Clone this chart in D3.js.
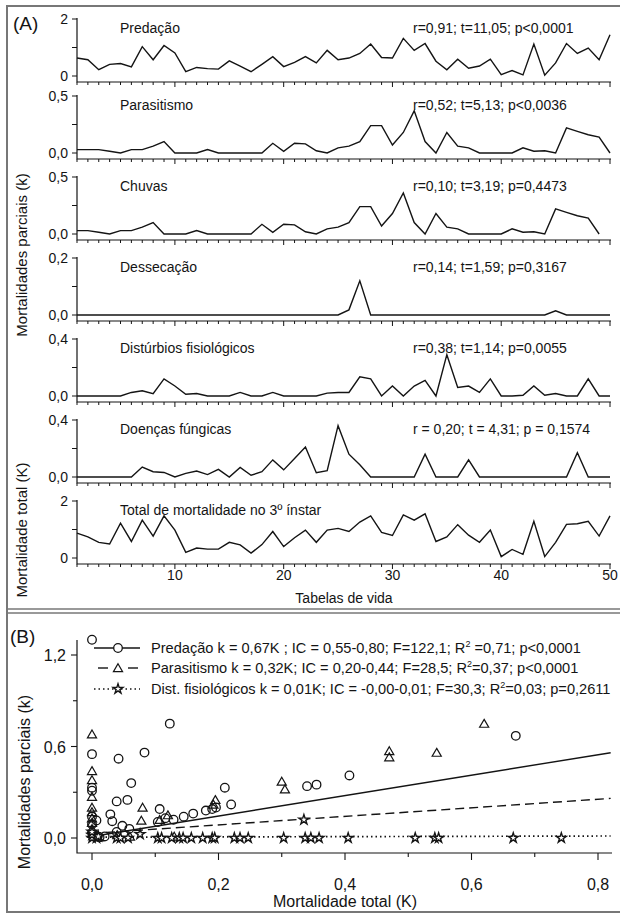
<!DOCTYPE html>
<html>
<head>
<meta charset="utf-8">
<script src="https://cdn.jsdelivr.net/npm/d3@7/dist/d3.min.js"></script>
<style>
  body { margin: 0; background: #fff; }
  svg { display: block; font-family: "Liberation Sans", Arial, sans-serif; }
</style>
</head>
<body>
<svg id="chart" width="620" height="913"></svg>
<script>
// ---- panel A: mortalidades parciais por tabela de vida ----
var tabelas = d3.range(1, 51);

var predacao = [0.63,0.57,0.22,0.41,0.44,0.32,1.03,0.57,1.07,0.81,0.15,0.30,0.26,0.24,0.53,0.35,0.15,0.41,0.68,0.33,
                0.48,0.68,0.46,0.90,0.57,0.63,0.79,1.12,0.65,0.63,1.32,0.90,1.14,0.52,0.22,0.59,0.27,0.35,0.59,0.05,
                0.19,0.04,1.12,0.03,0.46,1.14,0.79,0.98,0.57,1.45];
var parasitismo = [0.03,0.03,0.03,0.015,0,0.03,0.03,0.06,0.10,0,0,0,0.03,0,0,0,0,0,0.085,0.015,
                   0.085,0.08,0.02,0,0.045,0.06,0.10,0.24,0.24,0.07,0.18,0.37,0.10,0,0.18,0.06,0.045,0,0,0,
                   0,0.045,0.015,0.02,0,0.22,0.19,0.16,0.14,0];
var chuvas = [0.03,0.03,0.015,0,0.03,0.03,0.06,0.10,0,0,0,0.03,0,0,0,0,0,0.085,0.015,0.085,
              0.08,0.02,0,0.045,0.06,0.10,0.24,0.24,0.07,0.18,0.36,0.10,0,0.18,0.06,0.045,0,0,0,0,
              0.045,0.015,0.02,0,0.22,0.19,0.16,0.14,0];
var dessecacao = [0,0,0,0,0,0,0,0,0,0,0,0,0,0,0,0,0,0,0,0,
                  0,0,0,0,0,0.018,0.12,0,0,0,0,0,0,0,0,0,0,0,0,0,
                  0,0,0,0,0.015,0,0,0,0,0];
var disturbios = [0,0,0,0,0,0.025,0.037,0.017,0.12,0.07,0.012,0.017,0,0,0,0.025,0,0,0.025,0,
                  0,0,0,0.02,0.025,0.025,0.135,0.12,0,0.07,0,0.07,0.11,0,0.29,0.06,0.07,0.025,0.12,0,
                  0,0.005,0.07,0.005,0.017,0,0,0.12,0,0];
var doencas = [0,0,0,0,0,0,0.07,0.037,0.032,0,0.025,0.042,0.017,0.054,0,0.067,0.012,0.037,0.12,0.05,
               0.13,0.21,0.03,0.044,0.36,0.16,0.086,0,0,0,0,0,0.16,0,0,0,0.12,0,0,0,
               0,0,0,0,0,0,0.17,0,0,0];
var total = [0.87,0.74,0.55,0.49,1.22,0.58,1.33,0.77,1.48,0.98,0.20,0.35,0.31,0.31,0.55,0.46,0.17,0.47,0.93,0.40,
             0.71,0.98,0.55,0.98,1.04,0.93,1.26,1.48,0.90,0.79,1.51,1.33,1.55,0.58,0.74,1.17,0.80,0.55,0.98,0.05,
             0.30,0.13,1.29,0.05,0.55,1.18,1.20,1.29,0.77,1.48];

var titulos = ["Predação", "Parasitismo", "Chuvas", "Dessecação", "Distúrbios fisiológicos",
               "Doenças fúngicas", "Total de mortalidade no 3º ínstar"];
var estatisticas = ["r=0,91; t=11,05; p<0,0001", "r=0,52; t=5,13; p<0,0036", "r=0,10; t=3,19; p=0,4473",
                    "r=0,14; t=1,59; p=0,3167", "r=0,38; t=1,14; p=0,0055", "r = 0,20; t = 4,31; p = 0,1574", ""];
var yMaximos = [2, 0.5, 0.5, 0.2, 0.4, 0.4, 2];
var xRotulos = [10, 20, 30, 40, 50];

// ---- panel B: mortalidades parciais x mortalidade total ----
var predX = [0,0.123,0.67,0,0.042,0.083,0.062,0,0,0.039,0.056,0.029,0.032,0.048,0.059,0.039,0.107,0.104,0.116,0.129,
             0.145,0.16,0.18,0.19,0.196,0.21,0.22,0.34,0.355,0.407,0.007,0,0,0.005,0.02,0.012];
var predY = [1.3,0.75,0.67,0.55,0.52,0.56,0.36,0.33,0.31,0.24,0.25,0.155,0.11,0.08,0.06,0.04,0.19,0.105,0.13,0.12,
             0.14,0.16,0.18,0.19,0.2,0.33,0.22,0.34,0.35,0.41,0.115,0.14,0.09,0.02,0.01,0.005];
var parX = [0,0,0,0,0,0,0,0,0,0,0.08,0.078,0.107,0.12,0.195,0.192,0.30,0.305,0.47,0.47,0.545,0.62,0.04,0.06,0.13,0.01];
var parY = [0.68,0.44,0.38,0.27,0.2,0.17,0.13,0.1,0.06,0.03,0.2,0.115,0.12,0.15,0.25,0.22,0.37,0.32,0.57,0.53,0.56,0.75,0.02,0.01,0.01,0.005];
var distX = [0,0.007,0.039,0.045,0.057,0.076,0.104,0.11,0.126,0.138,0.144,0.157,0.175,0.19,0.194,0.225,0.234,0.247,0.303,0.335,
             0.337,0.346,0.359,0.405,0.511,0.542,0.548,0.666,0.742,0,0,0.01];
var distY = [0,0,0,0,0,0.025,0,0,0,0,0,0,0,0,0,0,0,0,0,0.12,
             0,0,0,0,0,0,0,0,0,0.02,0.04,0.01];
var regIntercepto = [0.01, 0.03, 0.005];
var regInclinacao = [0.67, 0.28, 0.01];
var legendaNomes = ["Predação", "Parasitismo", "Dist. fisiológicos"];
var legendaTextos = [
  ["  k = 0,67K ; IC = 0,55-0,80; F=122,1; R", " =0,71; p<0,0001"],
  ["  k = 0,32K; IC = 0,20-0,44; F=28,5; R", "=0,37; p<0,0001"],
  ["  k = 0,01K; IC = -0,00-0,01; F=30,3; R", "=0,03; p=0,2611"]
];

var br = d3.formatLocale({decimal: ",", thousands: ".", grouping: [3], currency: ["", ""]});
var fmt1 = br.format(".1f");

var svg = d3.select("#chart");
var ink = "#141414";

// frame
svg.append("rect").attr("x", 7).attr("y", 6).attr("width", 640).attr("height", 906)
  .attr("fill", "none").attr("stroke", "#777").attr("stroke-width", 2);
[609, 613].forEach(function(y) {
  svg.append("line").attr("x1", 7).attr("x2", 620).attr("y1", y).attr("y2", y)
    .attr("stroke", "#777").attr("stroke-width", 1.6);
});

/**
 * PANEL A
 */
var seriesA = [predacao, parasitismo, chuvas, dessecacao, disturbios, doencas, total];
var eixosY = [82, 159, 240, 321, 402, 483, 564];

var xA = d3.scaleLinear().domain([1, 50]).range([77, 610]);

seriesA.forEach(function(serie, i) {
  var base = eixosY[i];
  var yMax = yMaximos[i];
  var y = d3.scaleLinear().domain([0, yMax]).range([base - 6, base - 63]);
  var g = svg.append("g");

  // axis lines
  g.append("path").attr("d", "M77," + (base - 64) + "V" + base + "H611")
    .attr("fill", "none").attr("stroke", ink).attr("stroke-width", 1.2);

  // x ticks: every table, longer at tens
  g.selectAll(".xmin").data(tabelas).enter().append("line")
    .attr("x1", function(d) { return xA(d); }).attr("x2", function(d) { return xA(d); })
    .attr("y1", base).attr("y2", function(d) { return d % 10 === 0 ? base + 5 : base + 3; })
    .attr("stroke", ink).attr("stroke-width", 1);

  // y ticks
  var fmtY = yMax >= 1 ? d3.format("d") : fmt1;
  g.selectAll(".ytk").data([0, yMax / 2, yMax]).enter().append("line")
    .attr("x1", 72).attr("x2", 77)
    .attr("y1", function(d) { return y(d); }).attr("y2", function(d) { return y(d); })
    .attr("stroke", ink).attr("stroke-width", 1);
  g.selectAll(".ylab").data([0, yMax]).enter().append("text")
    .attr("x", 68).attr("y", function(d) { return y(d) + 5; })
    .attr("text-anchor", "end").attr("font-size", 14).attr("fill", ink)
    .text(function(d) { return fmtY(d); });

  // series line
  var line = d3.line().x(function(d, j) { return xA(j + 1); }).y(function(d) { return y(d); });
  g.append("path").datum(serie).attr("d", line)
    .attr("fill", "none").attr("stroke", ink).attr("stroke-width", 1.4);

  // titles
  g.append("text").attr("x", 120).attr("y", base - 49).attr("font-size", 14).attr("fill", ink).text(titulos[i]);
  if (estatisticas[i]) {
    g.append("text").attr("x", 413).attr("y", base - 49).attr("font-size", 14).attr("fill", ink).text(estatisticas[i]);
  }

  if (i === seriesA.length - 1) {
    g.selectAll(".xlab").data(xRotulos).enter().append("text")
      .attr("x", function(d) { return xA(d); }).attr("y", base + 16)
      .attr("text-anchor", "middle").attr("font-size", 14).attr("fill", ink)
      .text(function(d) { return d; });
  }
});

svg.append("text").attr("x", 13).attr("y", 30).attr("font-size", 19).attr("fill", ink).text("(A)");
svg.append("text").attr("x", 344).attr("y", 603).attr("text-anchor", "middle")
  .attr("font-size", 14).attr("fill", ink).text("Tabelas de vida");
svg.append("text").attr("transform", "translate(27,255) rotate(-90)").attr("text-anchor", "middle")
  .attr("font-size", 15).attr("fill", ink).text("Mortalidades parciais (k)");
svg.append("text").attr("transform", "translate(27,530) rotate(-90)").attr("text-anchor", "middle")
  .attr("font-size", 15).attr("fill", ink).text("Mortalidade total (K)");

/**
 * PANEL B
 */
var xB = d3.scaleLinear().domain([0, 0.8]).range([92, 598]);
var yB = d3.scaleLinear().domain([0, 1.2]).range([838, 655]);
var baseB = 853;

var gB = svg.append("g");
gB.append("path").attr("d", "M77,640V" + baseB + "H612")
  .attr("fill", "none").attr("stroke", ink).attr("stroke-width", 1.2);

var xTicksB = [0, 0.1, 0.2, 0.3, 0.4, 0.5, 0.6, 0.7, 0.8];
gB.selectAll(".bxt").data(xTicksB).enter().append("line")
  .attr("x1", function(d) { return xB(d); }).attr("x2", function(d) { return xB(d); })
  .attr("y1", baseB).attr("y2", function(d, i) { return i % 2 === 0 ? baseB + 7 : baseB + 4; })
  .attr("stroke", ink).attr("stroke-width", 1.1);
gB.selectAll(".bxl").data(xTicksB.filter(function(d, i) { return i % 2 === 0; })).enter().append("text")
  .attr("x", function(d) { return xB(d); }).attr("y", 890)
  .attr("text-anchor", "middle").attr("font-size", 16).attr("fill", ink)
  .text(function(d) { return fmt1(d); });

var yTicksB = [0, 0.3, 0.6, 0.9, 1.2];
gB.selectAll(".byt").data(yTicksB).enter().append("line")
  .attr("x1", function(d, i) { return i % 2 === 0 ? 71 : 73; }).attr("x2", 77)
  .attr("y1", function(d) { return yB(d); }).attr("y2", function(d) { return yB(d); })
  .attr("stroke", ink).attr("stroke-width", 1.1);
gB.selectAll(".byl").data(yTicksB.filter(function(d, i) { return i % 2 === 0; })).enter().append("text")
  .attr("x", 66).attr("y", function(d) { return yB(d) + 6; })
  .attr("text-anchor", "end").attr("font-size", 16).attr("fill", ink)
  .text(function(d) { return fmt1(d); });

// regression lines
var estilos = [null, "9,5", "1.5,3"];
regIntercepto.forEach(function(a, i) {
  var b = regInclinacao[i];
  gB.append("line")
    .attr("x1", xB(0)).attr("y1", yB(a))
    .attr("x2", xB(0.82)).attr("y2", yB(a + b * 0.82))
    .attr("stroke", ink).attr("stroke-width", i === 2 ? 1.7 : 1.4)
    .attr("stroke-dasharray", estilos[i]);
});

var tri = d3.symbol().type(d3.symbolTriangle).size(36);
var star = d3.symbol().type(d3.symbolStar).size(30);

gB.selectAll(".pd").data(predX).enter().append("circle")
  .attr("cx", function(d) { return xB(d); }).attr("cy", function(d, i) { return yB(predY[i]); })
  .attr("r", 4.3).attr("fill", "none").attr("stroke", ink).attr("stroke-width", 1.3);
gB.selectAll(".pa").data(parX).enter().append("path")
  .attr("d", tri)
  .attr("transform", function(d, i) { return "translate(" + xB(d) + "," + (yB(parY[i]) + 1) + ")"; })
  .attr("fill", "none").attr("stroke", ink).attr("stroke-width", 1.2);
gB.selectAll(".di").data(distX).enter().append("path")
  .attr("d", star)
  .attr("transform", function(d, i) { return "translate(" + xB(d) + "," + yB(distY[i]) + ")"; })
  .attr("fill", "#fff").attr("stroke", ink).attr("stroke-width", 1.4);

// legend
var legY = [648, 668, 689];
legendaNomes.forEach(function(nome, i) {
  var cy = legY[i];
  var lg = gB.append("g");
  if (i === 0) {
    lg.append("line").attr("x1", 94).attr("x2", 140).attr("y1", cy).attr("y2", cy)
      .attr("stroke", ink).attr("stroke-width", 1.4);
    lg.append("circle").attr("cx", 118).attr("cy", cy).attr("r", 4.3)
      .attr("fill", "#fff").attr("stroke", ink).attr("stroke-width", 1.3);
  } else if (i === 1) {
    [[98, 108], [128, 138]].forEach(function(s) {
      lg.append("line").attr("x1", s[0]).attr("x2", s[1]).attr("y1", cy).attr("y2", cy)
        .attr("stroke", ink).attr("stroke-width", 1.4);
    });
    lg.append("path").attr("d", tri).attr("transform", "translate(118," + (cy + 1) + ")")
      .attr("fill", "none").attr("stroke", ink).attr("stroke-width", 1.2);
  } else {
    lg.append("line").attr("x1", 94).attr("x2", 140).attr("y1", cy).attr("y2", cy)
      .attr("stroke", ink).attr("stroke-width", 1.7).attr("stroke-dasharray", "1.5,3");
    lg.append("path").attr("d", star).attr("transform", "translate(118," + cy + ")")
      .attr("fill", "#fff").attr("stroke", ink).attr("stroke-width", 1.4);
  }
  var t = lg.append("text").attr("x", 151).attr("y", cy + 5).attr("font-size", 14.6).attr("fill", ink);
  t.append("tspan").text(nome + legendaTextos[i][0]);
  t.append("tspan").attr("dy", -6).attr("font-size", 9).text("2");
  t.append("tspan").attr("dy", 6).text(legendaTextos[i][1]);
});

svg.append("text").attr("x", 10).attr("y", 643).attr("font-size", 19).attr("fill", ink).text("(B)");
svg.append("text").attr("x", 345).attr("y", 907).attr("text-anchor", "middle")
  .attr("font-size", 16).attr("fill", ink).text("Mortalidade total (K)");
svg.append("text").attr("transform", "translate(30,782) rotate(-90)").attr("text-anchor", "middle")
  .attr("font-size", 16).attr("fill", ink).text("Mortalidades parciais (k)");
</script>
</body>
</html>
